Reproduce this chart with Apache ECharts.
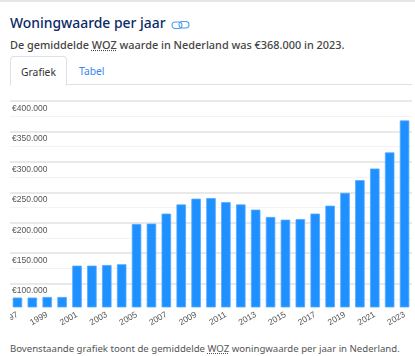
<!DOCTYPE html>
<html lang="nl">
<head>
<meta charset="utf-8">
<title>Woningwaarde per jaar</title>
<script src="https://cdn.jsdelivr.net/npm/echarts@6/dist/echarts.min.js"></script>
<style>
  html, body { margin: 0; padding: 0; background: #fff; }
  body { position: relative; width: 415px; height: 356px; overflow: hidden; font-family: "Noto Sans", sans-serif; }
  .topbar { position: absolute; left: 0; top: 0; width: 415px; height: 2px; background: #e6e6e6; }
  h1 { position: absolute; left: 10px; top: 11px; margin: 0; font-size: 13.9px; line-height: 24px; font-weight: 500; color: #0b2a66; white-space: nowrap; }
  .link { position: absolute; left: 171px; top: 20px; }
  .sub { position: absolute; left: 10px; top: 36px; font-size: 10.9px; line-height: 18px; font-weight: 500; color: #444; white-space: nowrap; }
  .abbr { text-decoration: underline dotted; }
  .tabline { position: absolute; left: 10px; top: 84px; width: 402px; height: 1px; background: #dee2e6; }
  .tab { position: absolute; top: 57px; height: 28px; line-height: 28px; font-size: 10.3px; text-align: center; }
  .tab.on { left: 10px; top: 56px; width: 55px; line-height: 30px; color: #333; background: #fff; border: 1px solid #dee2e6; border-bottom: 1px solid #fff; border-radius: 4px 4px 0 0; height: 28px; z-index: 1; }
  .tab.off { left: 79px; color: #3b82f6; }
  #chart { position: absolute; left: 10px; top: 90px; width: 402px; height: 240px; }
  .note { position: absolute; left: 10px; top: 341px; font-size: 9.6px; line-height: 16px; color: #555; white-space: nowrap; }
</style>
</head>
<body>
<div class="topbar"></div>
<h1>Woningwaarde per jaar</h1>
<svg class="link" width="19" height="10" viewBox="0 0 19 10" fill="none" stroke="#4a9bea" stroke-width="1.1">
  <rect x="1" y="2" width="10" height="6.5" rx="3.2"></rect>
  <rect x="8" y="1.5" width="10" height="6.5" rx="3.2"></rect>
</svg>
<div class="sub">De gemiddelde <span class="abbr">WOZ</span> waarde in Nederland was €368.000 in 2023.</div>
<div class="tabline"></div>
<div class="tab on">Grafiek</div>
<div class="tab off">Tabel</div>
<div id="chart"></div>
<div class="note">Bovenstaande grafiek toont de gemiddelde <span class="abbr">WOZ</span> woningwaarde per jaar in Nederland.</div>

<script>
const years = ['1997', '1998', '1999', '2000', '2001', '2002', '2003', '2004', '2005', '2006',
  '2007', '2008', '2009', '2010', '2011', '2012', '2013', '2014', '2015', '2016',
  '2017', '2018', '2019', '2020', '2021', '2022', '2023']
const wozValues = [77000, 77000, 78000, 78000, 129500, 129500, 130500, 131700, 198000, 198500,
  215000, 230000, 239500, 240500, 234000, 230000, 221500, 209500, 205000, 206000,
  215000, 228000, 249000, 270000, 289000, 315500, 368000]
const majorTicks = [100000, 150000, 200000, 250000, 300000, 350000, 400000]
const minorTicks = [75000, 125000, 175000, 225000, 275000, 325000, 375000]
const axisMin = 61500
const axisMax = 400000

const euro = (value) => '€' + String(value).replace(/\B(?=(\d{3})+$)/g, '.')

const chart = echarts.init(document.getElementById('chart'), null, { renderer: 'canvas' })

chart.setOption({
  animation: false,
  grid: { left: 0, right: 0, top: 11, bottom: 23, outerBoundsMode: 'none' },
  xAxis: {
    type: 'category',
    data: years,
    axisLine: { show: false },
    axisTick: { show: false },
    axisLabel: {
      interval: 1,
      rotate: 30,
      margin: 7,
      color: '#555',
      fontSize: 8.5,
      fontFamily: 'Liberation Sans'
    }
  },
  yAxis: [
    {
      type: 'value',
      min: axisMin,
      max: axisMax,
      axisLine: { show: false },
      axisTick: { show: false, customValues: majorTicks },
      splitLine: { show: true, lineStyle: { color: '#e2e2e2', width: 1.5 } },
      axisLabel: {
        inside: true,
        customValues: majorTicks,
        verticalAlign: 'top',
        margin: 2,
        padding: [3, 0, 0, 0],
        color: '#555',
        fontSize: 8.5,
        fontFamily: 'Liberation Sans',
        formatter: euro
      }
    },
    {
      type: 'value',
      min: axisMin,
      max: axisMax,
      position: 'left',
      axisLine: { show: false },
      axisTick: { show: false, customValues: minorTicks },
      splitLine: { show: true, lineStyle: { color: '#f3f3f3', width: 1 } },
      axisLabel: { show: false, customValues: minorTicks }
    }
  ],
  series: [
    {
      type: 'bar',
      data: wozValues,
      barWidth: 9.5,
      itemStyle: {
        color: '#1e90ff',
        borderColor: '#55aaff',
        borderWidth: 0.8
      }
    }
  ]
})
</script>
</body>
</html>
